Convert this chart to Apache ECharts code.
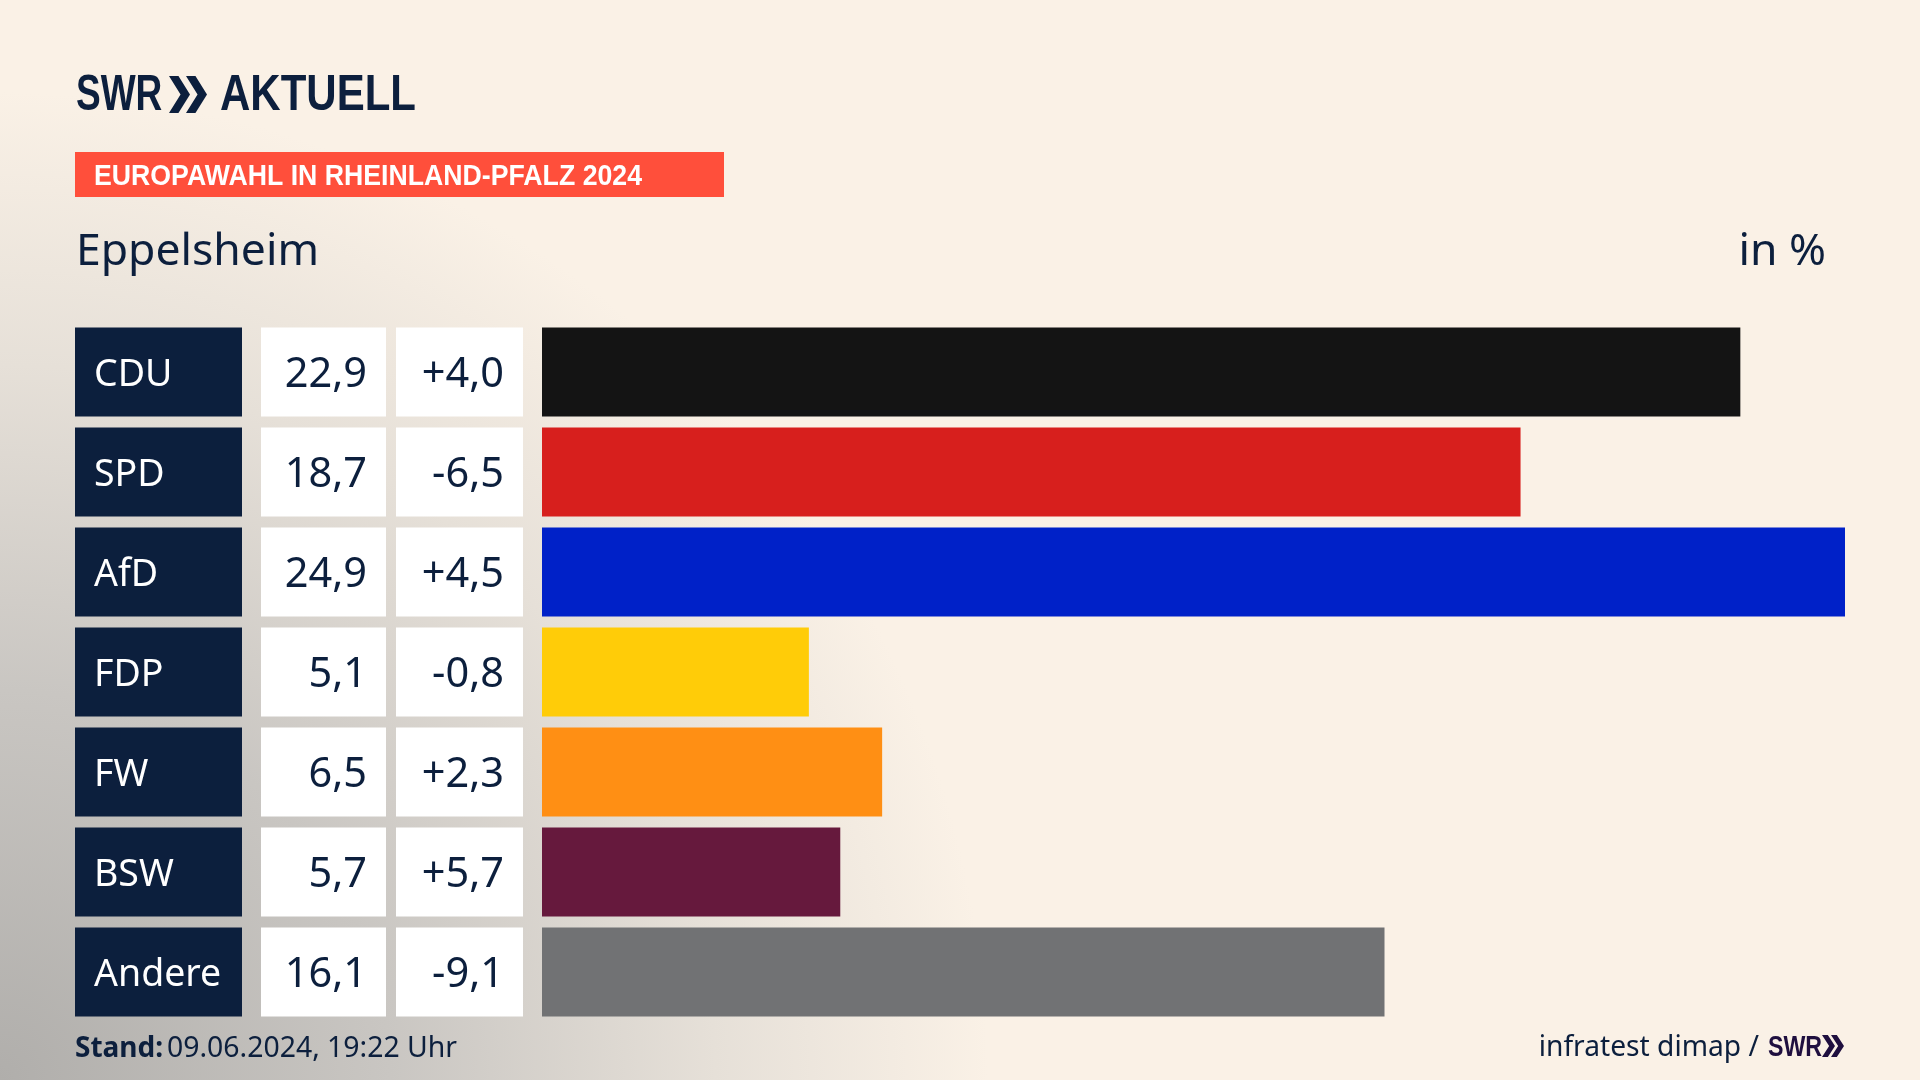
<!DOCTYPE html>
<html>
<head>
<meta charset="utf-8" />
<title>Europawahl in Rheinland-Pfalz 2024 - Eppelsheim</title>
<script src="https://cdn.jsdelivr.net/npm/echarts@6/dist/echarts.min.js"></script>
<style>
html,body{margin:0;padding:0;background:#faf1e6;}
#chart{width:1920px;height:1080px;}
</style>
</head>
<body>
<div id="chart"></div>
<script>
var parties = ['CDU','SPD','AfD','FDP','FW','BSW','Andere'];
var shares = [22.9,18.7,24.9,5.1,6.5,5.7,16.1];
var changes = [4.0,-6.5,4.5,-0.8,2.3,5.7,-9.1];
var barColors = ['#141414','#d71f1d','#0021c8','#ffcc08','#ff8f14','#66193d','#717274'];

var NAVY = '#0c1f3d';
var FONT = '"Noto Sans", sans-serif';
var BOLD = '"Liberation Sans", sans-serif';

function deNum(v){ return v.toFixed(1).replace('.', ','); }
function signed(v){ return (v > 0 ? '+' : '') + deNum(v); }

// each column gets its own grid, tiles are full width bars
var columns = [
	{left:75, width:167, color:NAVY, text:function(i){return parties[i];}, labelColor:'#fff', pos:'insideLeft', dist:19, size:37.5},
	{left:261, width:125, color:'#fff', text:function(i){return deNum(shares[i]);}, labelColor:NAVY, pos:'insideRight', dist:19, size:41.5},
	{left:396, width:127, color:'#fff', text:function(i){return signed(changes[i]);}, labelColor:NAVY, pos:'insideRight', dist:19, size:41.5}
];

var grids = [], xAxes = [], yAxes = [], series = [];
columns.forEach(function(c, n){
	grids.push({left:c.left, width:c.width, top:322, height:700});
	xAxes.push({type:'value', gridIndex:n, min:0, max:1, show:false});
	yAxes.push({type:'category', gridIndex:n, data:parties, inverse:true, show:false});
	series.push({
		type:'bar', xAxisIndex:n, yAxisIndex:n, barWidth:89, silent:true,
		data:parties.map(function(){return 1;}),
		itemStyle:{color:c.color},
		label:{show:true, position:c.pos, distance:c.dist, offset:[0,3], color:c.labelColor, fontFamily:FONT, fontSize:c.size,
			formatter:function(p){return c.text(p.dataIndex);}}
	});
});

// the actual results
grids.push({left:542, width:1303, top:322, height:700});
xAxes.push({type:'value', gridIndex:3, min:0, max:24.9, show:false});
yAxes.push({type:'category', gridIndex:3, data:parties, inverse:true, show:false});
series.push({
	type:'bar', xAxisIndex:3, yAxisIndex:3, barWidth:89, silent:true,
	data:shares.map(function(v, i){return {value:v, itemStyle:{color:barColors[i]}};})
});

function chevrons(x, y, h, w, gap, color){
	var out = [];
	[0, gap].forEach(function(dx){
		out.push({type:'polygon', silent:true, shape:{points:[
			[x+dx, y],[x+dx+w*0.45, y],[x+dx+w, y+h/2],[x+dx+w*0.45, y+h],[x+dx, y+h],[x+dx+w*0.55, y+h/2]
		]}, style:{fill:color}});
	});
	return out;
}

function txt(x, y, s, font, fill, align, sx){
	return {type:'text', x:x, y:y, scaleX:sx||1, silent:true, style:{text:s, font:font, fill:fill, textAlign:align||'left', textVerticalAlign:'middle'}};
}

var graphics = [
	{type:'rect', z:-10, silent:true, shape:{x:0,y:0,width:1920,height:1080},
		style:{fill:{type:'radial', x:0, y:1080, r:1300, global:true, colorStops:[
			{offset:0,color:'#b0aeab'},{offset:0.3,color:'#c9c6c2'},{offset:0.55,color:'#e6e0d8'},{offset:0.76,color:'#faf1e6'},{offset:1,color:'#faf1e6'}
		]}}},
	{type:'rect', silent:true, shape:{x:75,y:152,width:649,height:45}, style:{fill:'#ff4f3b'}},
	txt(94, 177, 'EUROPAWAHL IN RHEINLAND-PFALZ 2024', 'bold 29px '+BOLD, '#fff', 'left', 0.92),
	txt(76, 96, 'SWR', 'bold 50px '+BOLD, NAVY, 'left', 0.74),
	txt(220, 96, 'AKTUELL', 'bold 50px '+BOLD, NAVY, 'left', 0.84),
	txt(76, 252, 'Eppelsheim', '44.5px '+FONT, NAVY),
	txt(1826, 252, 'in %', '44.5px '+FONT, NAVY, 'right'),
	txt(75, 1049, 'Stand:', 'bold 28px '+FONT, NAVY),
	txt(167, 1049, '09.06.2024, 19:22 Uhr', '28.4px '+FONT, NAVY),
	txt(1759, 1048, 'infratest dimap /', '28.2px '+FONT, NAVY, 'right'),
	txt(1768, 1048, 'SWR', 'bold 29px '+BOLD, '#1f0f3f', 'left', 0.8)
].concat(chevrons(169, 76, 37, 21, 17, NAVY)).concat(chevrons(1822, 1035, 22, 13, 9, '#1f0f3f'));

var chart = echarts.init(document.getElementById('chart'));
chart.setOption({
	animation:false,
	backgroundColor:'#faf1e6',
	grid:grids, xAxis:xAxes, yAxis:yAxes, series:series,
	graphic:graphics
});
</script>
</body>
</html>
